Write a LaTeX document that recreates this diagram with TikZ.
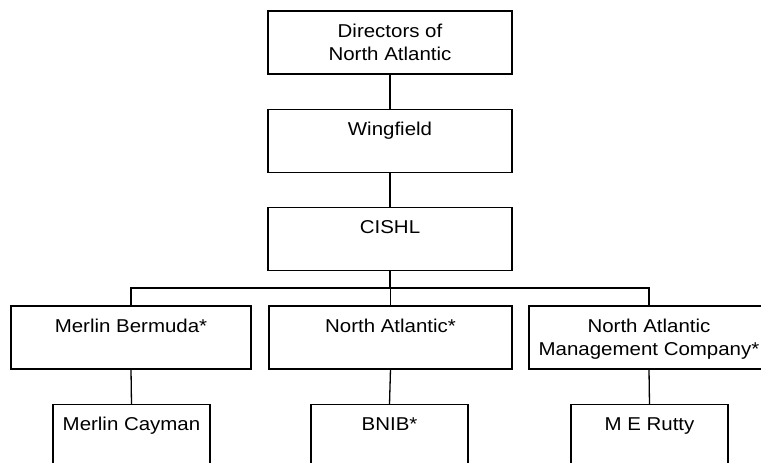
\documentclass[tikz,border=0pt]{standalone}
\usepackage{fontspec}
\setmainfont{Liberation Sans}[FakeStretch=1.1]
\begin{document}
\begin{tikzpicture}[x=1pt,y=-1pt,
  box/.style={draw, line width=1.3pt, inner sep=0pt, outer sep=0pt, align=center,
    text height=26pt, text depth=37pt, minimum height=63pt, anchor=north,
    font=\fontsize{18.6}{23.3}\selectfont},
  twoline/.style={text height=49.3pt, text depth=13.7pt},
  conn/.style={line width=1.3pt}]
\clip (0,0) rectangle (761,463);
\fill[white] (0,0) rectangle (761,463);
\node[box, twoline, minimum width=244pt] (dir) at (390,11) {Directors of\\North Atlantic};
\node[box, minimum width=244pt] (wing) at (390,109.5) {Wingfield};
\node[box, minimum width=244pt] (cishl) at (390,207.5) {CISHL};
\node[box, minimum width=240pt] (mb) at (131,306) {Merlin Bermuda*};
\node[box, minimum width=243pt] (na) at (390.5,306) {North Atlantic*};
\node[box, twoline, minimum width=240pt] (namc) at (649,306) {North Atlantic\\Management Company*};
\node[box, minimum width=157pt] (mc) at (131.5,404.5) {Merlin Cayman};
\node[box, minimum width=157pt] (bnib) at (389.5,404.5) {BNIB*};
\node[box, minimum width=157pt] (mer) at (649.5,404.5) {M E Rutty};
\coordinate (bus) at (390,288);
\draw[conn] (dir.south) -- (wing.north);
\draw[conn] (wing.south) -- (cishl.north);
\draw[conn] (cishl.south) -- (bus);
\draw[conn] (mb.north) -- (mb.north |- bus) -- (namc.north |- bus) -- (namc.north);
\draw[conn] (na.north) -- (na.north |- bus);
\draw[conn] (mb.south) -- (mc.north);
\draw[conn] (na.south) -- (bnib.north);
\draw[conn] (namc.south) -- (mer.north);
\end{tikzpicture}
\end{document}
